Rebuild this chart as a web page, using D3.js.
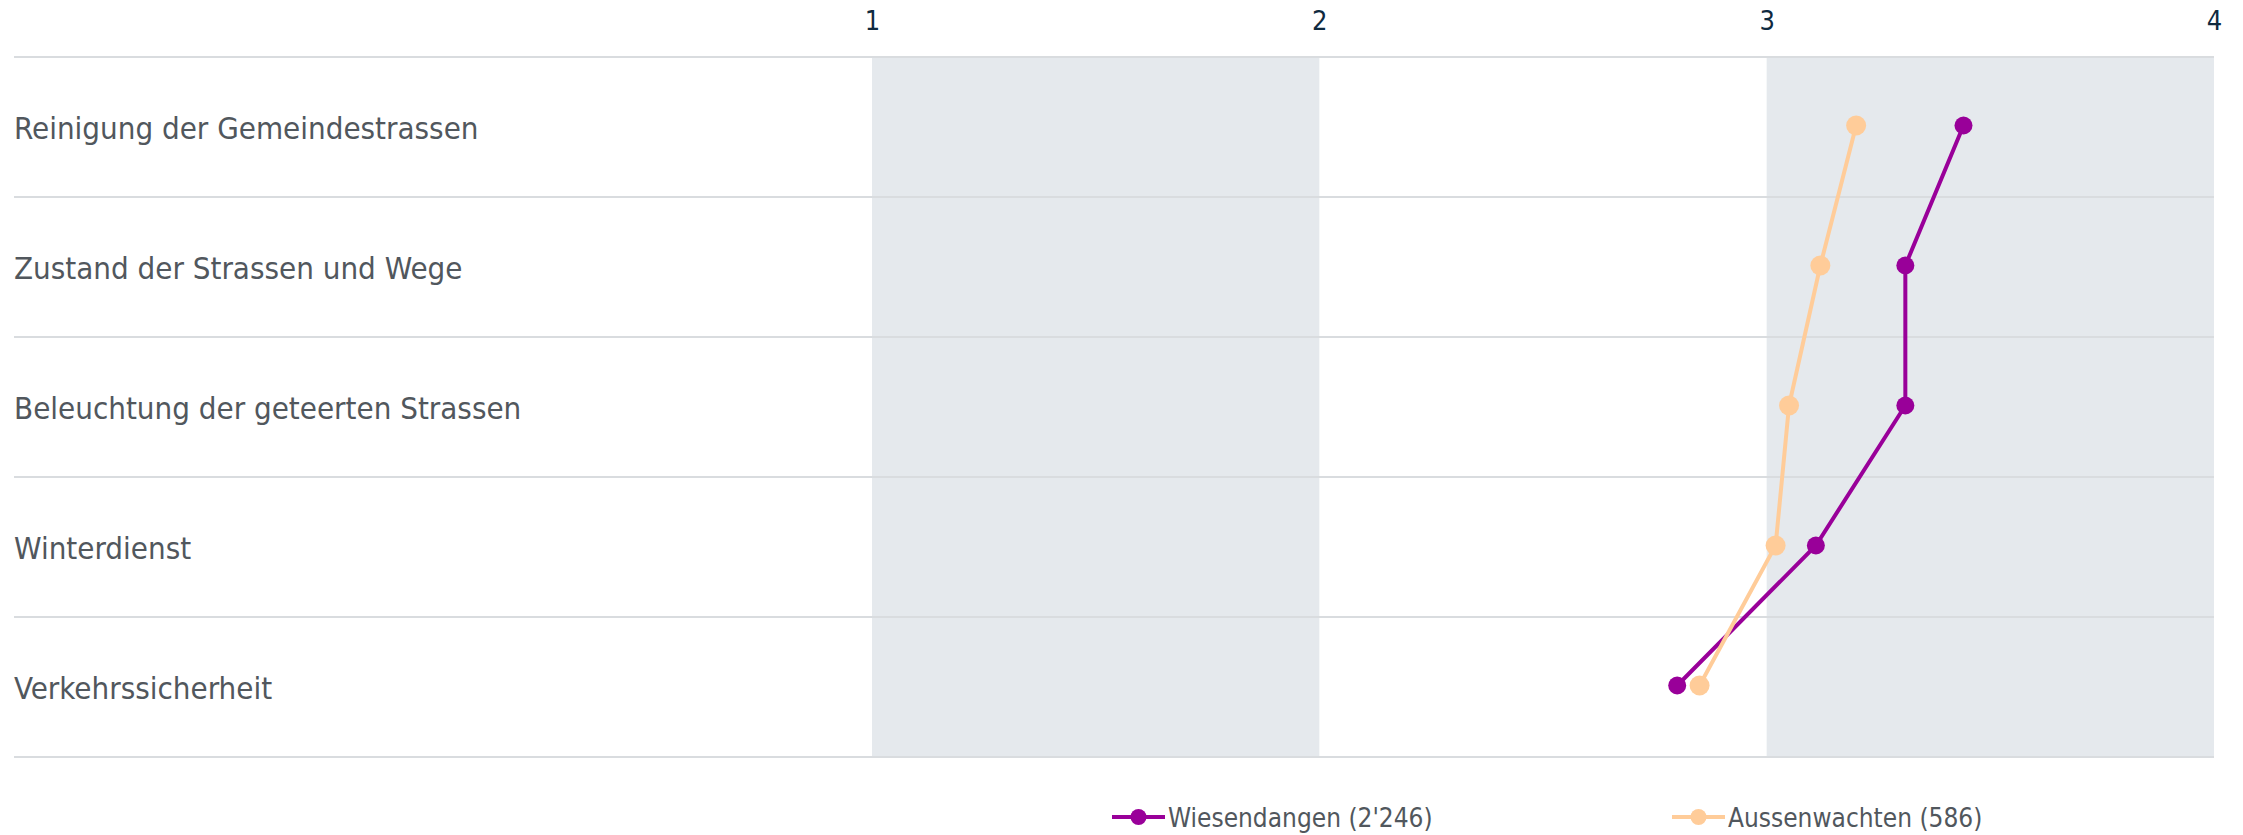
<!DOCTYPE html>
<html>
<head>
<meta charset="utf-8">
<script src="https://cdn.jsdelivr.net/npm/d3@7"></script>
<style>
  body { margin: 0; background: #fff; }
  svg text { font-family: "DejaVu Sans Condensed", "DejaVu Sans", sans-serif; }
</style>
</head>
<body>
<div class="chart"></div>
<script>
var categories = [
  "Reinigung der Gemeindestrassen",
  "Zustand der Strassen und Wege",
  "Beleuchtung der geteerten Strassen",
  "Winterdienst",
  "Verkehrssicherheit"
];
var wiesendangen = [3.44, 3.31, 3.31, 3.11, 2.80];
var aussenwachten = [3.20, 3.12, 3.05, 3.02, 2.85];
var seriesNames = ["Wiesendangen (2'246)", "Aussenwachten (586)"];
var tickValues = [1, 2, 3, 4];
var shadedBands = [[1, 2], [3, 4]];

var svgWidth = 2243;
var svgHeight = 835;

var svg = d3.select(".chart")
  .append("svg")
  .attr("width", svgWidth)
  .attr("height", svgHeight);

var x = d3.scaleLinear()
  .domain([1, 4])
  .range([872, 2214]);

var y = d3.scaleBand()
  .domain(categories)
  .range([57, 757]);

var colors = ["#990099", "#ffcc99"];
var radii = [9, 10];

// shaded bands
svg.selectAll("rect.band")
  .data(shadedBands)
  .enter()
  .append("rect")
  .attr("class", "band")
  .attr("x", d => x(d[0]))
  .attr("width", d => x(d[1]) - x(d[0]))
  .attr("y", y.range()[0])
  .attr("height", y.range()[1] - y.range()[0])
  .attr("fill", "#e5e9ed");

// row separators
var lines = categories.map(c => y(c)).concat([y.range()[1]]);
svg.selectAll("line.grid")
  .data(lines)
  .enter()
  .append("line")
  .attr("x1", 14)
  .attr("x2", x(4))
  .attr("y1", d => d)
  .attr("y2", d => d)
  .attr("stroke", "#d9dcdf")
  .attr("stroke-width", 2);

// top axis
var topAxis = d3.axisTop(x)
  .tickValues(tickValues)
  .tickFormat(d3.format("d"))
  .tickSize(0)
  .tickPadding(0);
var ax = svg.append("g")
  .attr("transform", "translate(0, 30)")
  .call(topAxis);
ax.select(".domain").remove();
ax.selectAll("text")
  .attr("fill", "#0f2a3f")
  .style("font-size", "27px")
  .style("font-family", "'DejaVu Sans Condensed', 'DejaVu Sans', sans-serif");

var mid = y.bandwidth() / 2 - 1.5;

// category labels
svg.selectAll("text.cat")
  .data(categories)
  .enter()
  .append("text")
  .attr("class", "cat")
  .attr("x", 14)
  .attr("y", d => y(d) + mid + 13)
  .attr("fill", "#51575d")
  .style("font-size", "31px")
  .text(d => d);

// series
var series = [wiesendangen, aussenwachten];
var line = d3.line()
  .x(d => x(d.v))
  .y(d => y(d.c) + mid);

series.forEach(function(vals, i) {
  var pts = vals.map((v, j) => ({ v: v, c: categories[j] }));
  svg.append("path")
    .datum(pts)
    .attr("d", line)
    .attr("fill", "none")
    .attr("stroke", colors[i])
    .attr("stroke-width", 4);
  svg.selectAll("circle.s" + i)
    .data(pts)
    .enter()
    .append("circle")
    .attr("class", "s" + i)
    .attr("cx", d => x(d.v))
    .attr("cy", d => y(d.c) + mid)
    .attr("r", radii[i])
    .attr("fill", colors[i]);
});

// legend
var legend = svg.append("g")
  .attr("transform", "translate(1112, 817)");
var item = legend.selectAll("g")
  .data(seriesNames)
  .enter()
  .append("g")
  .attr("transform", (d, i) => `translate(${i * 560}, 0)`);
item.append("line")
  .attr("x1", 0).attr("x2", 53)
  .attr("stroke", (d, i) => colors[i])
  .attr("stroke-width", 4);
item.append("circle")
  .attr("cx", 26.5)
  .attr("r", 8)
  .attr("fill", (d, i) => colors[i]);
item.append("text")
  .attr("x", 56)
  .attr("y", 10)
  .attr("fill", "#51575d")
  .style("font-size", "26px")
  .text(d => d);
</script>
</body>
</html>
